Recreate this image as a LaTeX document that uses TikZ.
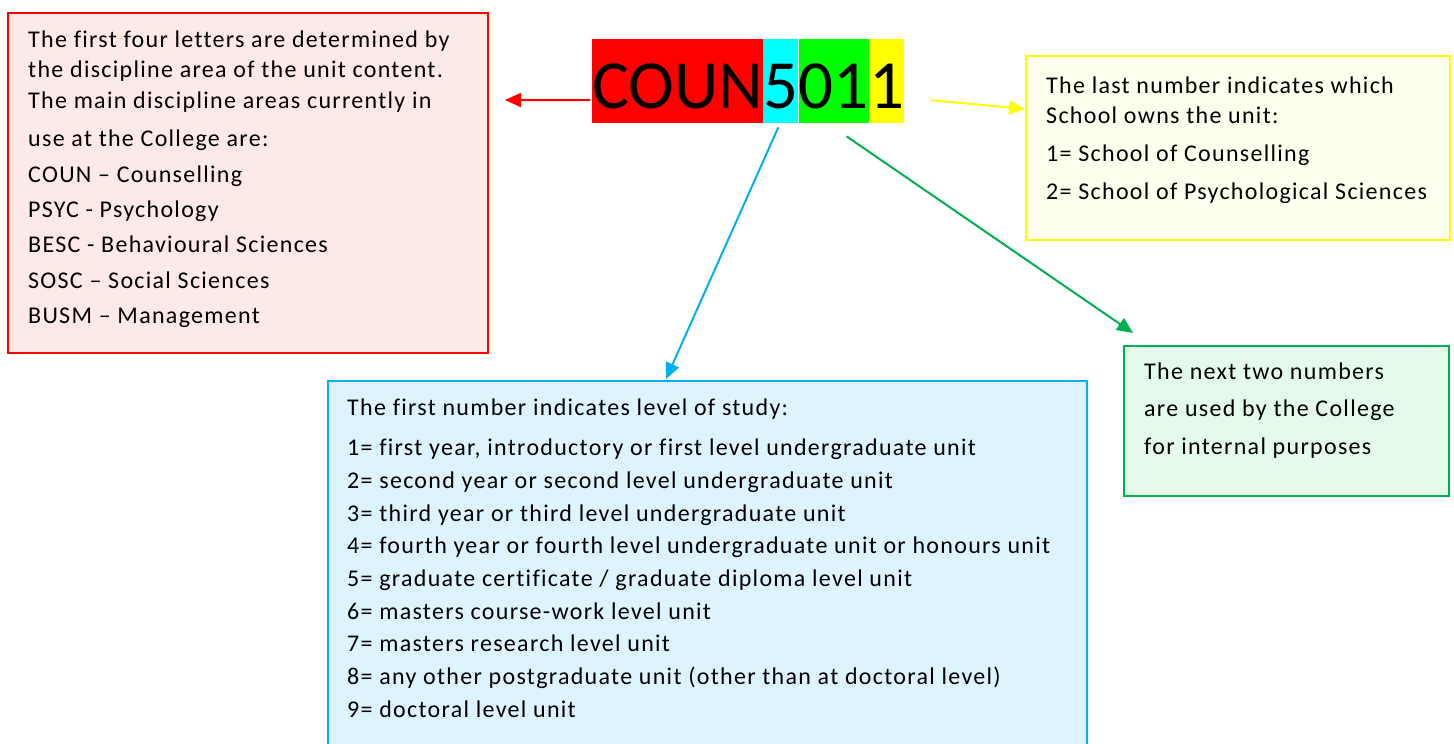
\documentclass[tikz,border=0pt]{standalone}
\usepackage{fontspec}
\setmainfont{Carlito}
\newfontfamily\bodyfont[LetterSpace=5.4,Ligatures=CommonOff]{Carlito}
\usetikzlibrary{arrows.meta,calc}
\definecolor{cRed}{HTML}{FF0000}
\definecolor{cCyan}{HTML}{00FFFF}
\definecolor{cGreen}{HTML}{00FF00}
\definecolor{cYellow}{HTML}{FFFF00}
\definecolor{redFill}{HTML}{FDE9E5}
\definecolor{yelFill}{HTML}{FFFFF0}
\definecolor{greFill}{HTML}{E4FBE9}
\definecolor{bluFill}{HTML}{DDF4FD}
\definecolor{bluLine}{HTML}{00B0F0}
\definecolor{greLine}{HTML}{00B050}
\begin{document}
\begin{tikzpicture}[x=1pt,y=-1pt,
  codeseg/.style={inner sep=0pt, text height=54pt, text depth=0pt, minimum height=84pt,
    font=\fontsize{69}{80}\selectfont, anchor=north west},
  infobox/.style={draw, line width=2pt, anchor=north west, inner sep=0pt},
  bodytext/.style={anchor=base west, inner sep=0pt, font=\bodyfont\fontsize{24}{28}\selectfont},
  arr/.style={line width=2pt, -{Triangle[length=16pt,width=14pt]}}]
\useasboundingbox (0,0) rectangle (1454,744);
% boxes
\node[infobox, draw=cRed, fill=redFill, minimum width=480pt, minimum height=340pt] (redbox) at (7,12) {};
\node[infobox, draw=cYellow, fill=yelFill, minimum width=424pt, minimum height=184pt] (yelbox) at (1025,55) {};
\node[infobox, draw=greLine, fill=greFill, minimum width=325pt, minimum height=150pt] (grebox) at (1123,345) {};
\node[infobox, draw=bluLine, fill=bluFill, minimum width=759pt, minimum height=380pt] (blubox) at (327,380) {};
% code
\node[codeseg, fill=cRed] (coun) at (592,39) {COUN};
\node[codeseg, fill=cCyan] (five) at (coun.north east) {5};
\node[codeseg, fill=cGreen] (zeroone) at (five.north east) {01};
\node[codeseg, fill=cYellow] (last) at (zeroone.north east) {1};
% red text
\node[bodytext] (r1) at (28,47) {The first four letters are determined by};
\node[bodytext] (r2) at (28,77) {the discipline area of the unit content.};
\node[bodytext] (r3) at (28,108) {The main discipline areas currently in};
\node[bodytext] (r4) at (28,146) {use at the College are:};
\node[bodytext] (r5) at (28,182) {COUN – Counselling};
\node[bodytext] (r6) at (28,217) {PSYC - Psychology};
\node[bodytext] (r7) at (28,252) {BESC - Behavioural Sciences};
\node[bodytext] (r8) at (28,288) {SOSC – Social Sciences};
\node[bodytext] (r9) at (28,323) {BUSM – Management};
% yellow text
\node[bodytext] (y1) at (1046,93) {The last number indicates which};
\node[bodytext] (y2) at (1046,123) {School owns the unit:};
\node[bodytext] (y3) at (1046,161) {1= School of Counselling};
\node[bodytext] (y4) at (1046,199) {2= School of Psychological Sciences};
% green text
\node[bodytext] (g1) at (1144,379) {The next two numbers};
\node[bodytext] (g2) at (1144,416) {are used by the College};
\node[bodytext] (g3) at (1144,454) {for internal purposes};
% blue text
\node[bodytext] (b0) at (347,415.5) {The first number indicates level of study:};
\node[bodytext] (b1) at (347,455.5) {1= first year, introductory or first level undergraduate unit};
\node[bodytext] (b2) at (347,488) {2= second year or second level undergraduate unit};
\node[bodytext] (b3) at (347,521) {3= third year or third level undergraduate unit};
\node[bodytext] (b4) at (347,553.5) {4= fourth year or fourth level undergraduate unit or honours unit};
\node[bodytext] (b5) at (347,586.5) {5= graduate certificate / graduate diploma level unit};
\node[bodytext] (b6) at (347,619) {6= masters course-work level unit};
\node[bodytext] (b7) at (347,651.5) {7= masters research level unit};
\node[bodytext] (b8) at (347,684.5) {8= any other postgraduate unit (other than at doctoral level)};
\node[bodytext] (b9) at (347,717) {9= doctoral level unit};
% arrow tips
\coordinate (redtip) at (505,100);
\coordinate (yeltip) at (1025,109);
\coordinate (blutip) at (666,379);
\coordinate (gretip) at (1133,333);
\draw[arr, draw=cRed, fill=cRed] ($(coun.west)+(-2,19)$) -- (redtip);
\draw[arr, draw=cYellow, fill=cYellow] ($(last.east)+(27,19)$) -- (yeltip);
\draw[arr, draw=bluLine, fill=bluLine] ($(five.south)+(-2.5,4)$) -- (blutip);
\draw[arr, draw=greLine, fill=greLine] ($(zeroone.south)+(13,13)$) -- (gretip);
\end{tikzpicture}
\end{document}
